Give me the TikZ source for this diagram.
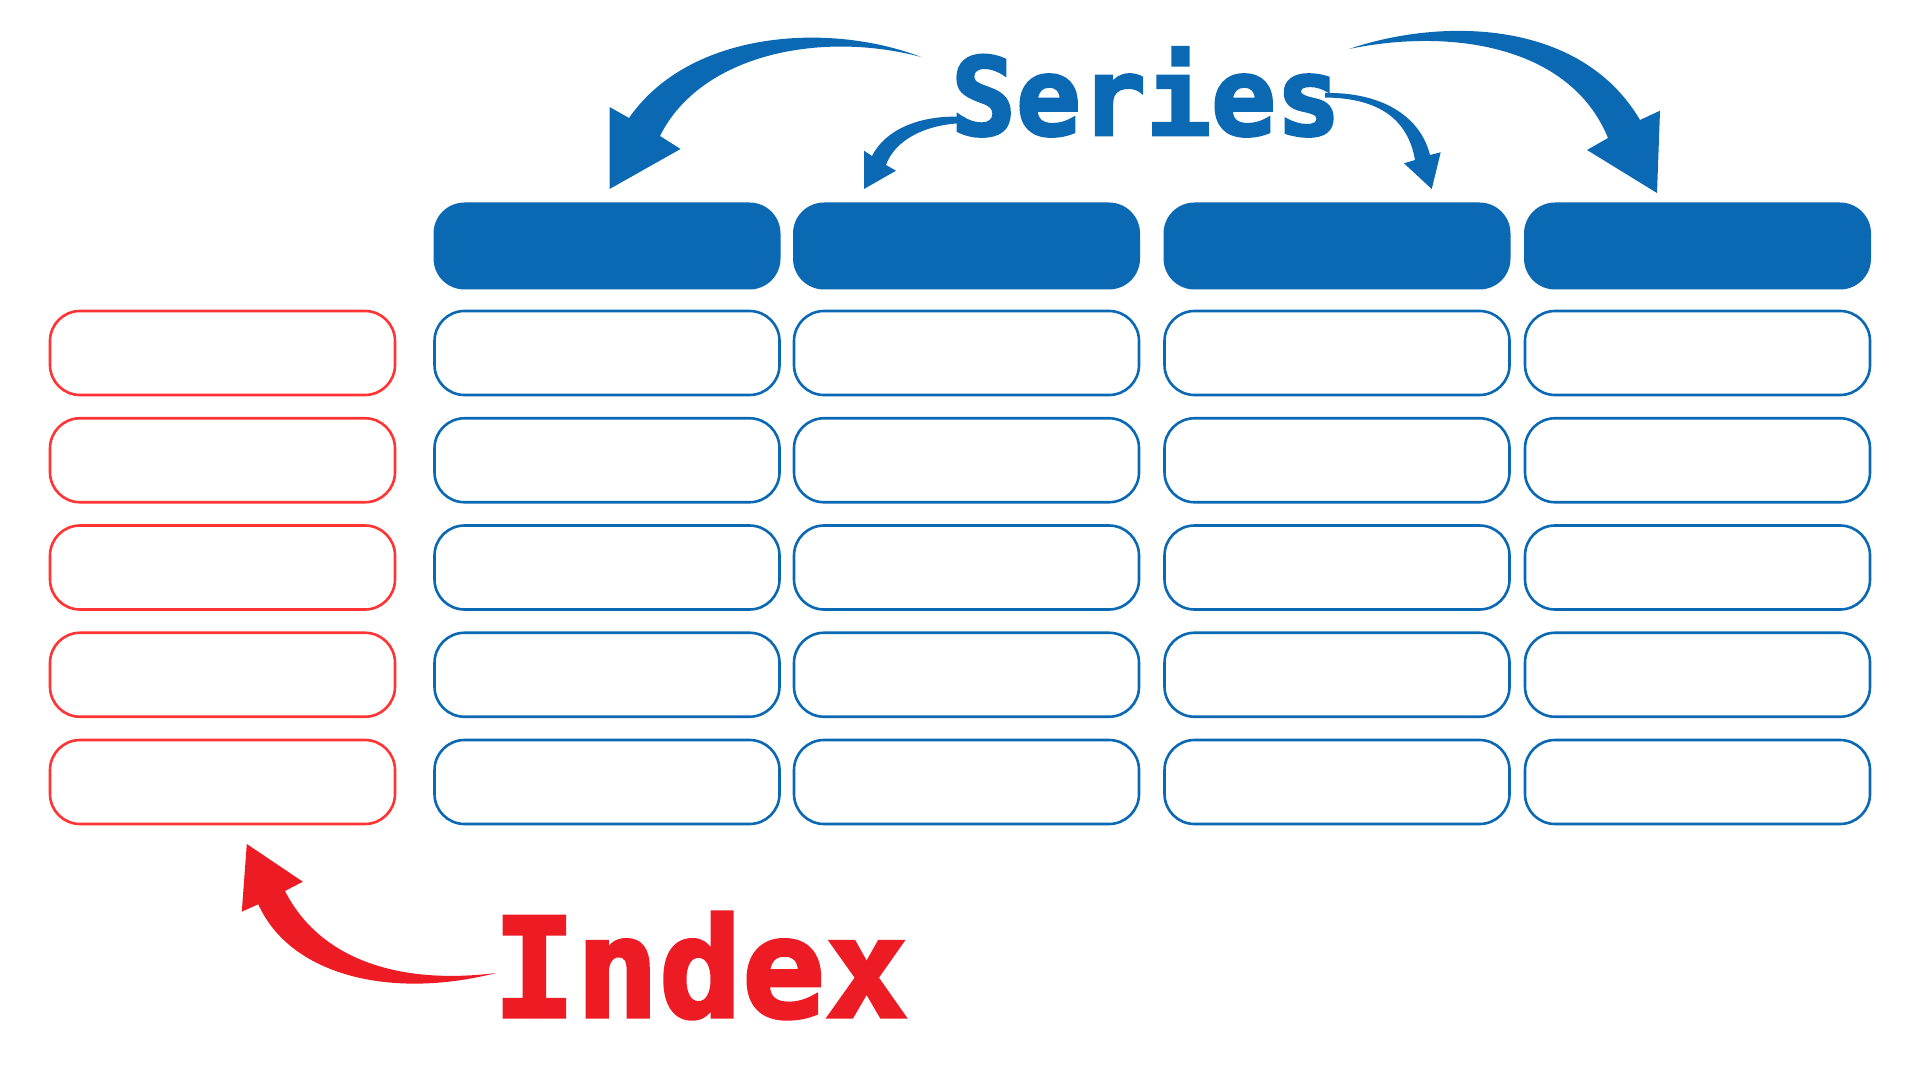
\documentclass[tikz,border=0pt]{standalone}
\usepackage{fontspec}
\newfontfamily\slabfont{DejaVu Sans Mono Bold}[RawFeature={embolden=2.5}]
\usetikzlibrary{calc}
\definecolor{seriesblue}{HTML}{0B69B4}
\definecolor{indexred}{HTML}{ED1C24}
\definecolor{cellred}{HTML}{FF3535}

\begin{document}
\begin{tikzpicture}[
    x=0.5pt, y=-0.5pt,
    head cell/.style={fill=seriesblue, rounded corners=15.5pt, inner sep=0pt,
        minimum width=173.5pt, minimum height=43.5pt},
    value cell/.style={draw=seriesblue, line width=1.3pt, rounded corners=15pt,
        inner sep=0pt, minimum width=172.5pt, minimum height=42pt},
    index cell/.style={value cell, draw=cellred},
    big title/.style={font={\slabfont\fontsize{#1}{#1}\selectfont},
        anchor=base, inner sep=0pt},
    sweep/.style={fill=seriesblue},
]

% ══════════════════════════════════════════════════════════════════════
%  DIMENSIONS — one index column, four series columns, five rows
% ══════════════════════════════════════════════════════════════════════
\def\colI{222.5} \def\colA{607} \def\colB{966.5} \def\colC{1337} \def\colD{1697.5}
\def\rowH{246}
\def\rowA{353} \def\rowB{460.25} \def\rowC{567.5} \def\rowD{674.75} \def\rowE{782}

\fill[white] (0,0) rectangle (1920,1080);
\useasboundingbox (0,0) rectangle (1920,1080);

% ── Series headers ────────────────────────────────────────────────────
\node[head cell] (hdA) at (\colA,\rowH) {};
\node[head cell] (hdB) at (\colB,\rowH) {};
\node[head cell] (hdC) at (\colC,\rowH) {};
\node[head cell] (hdD) at (\colD,\rowH) {};

% ── Index column ──────────────────────────────────────────────────────
\node[index cell] (ix1) at (\colI,\rowA) {};
\node[index cell] (ix2) at (\colI,\rowB) {};
\node[index cell] (ix3) at (\colI,\rowC) {};
\node[index cell] (ix4) at (\colI,\rowD) {};
\node[index cell] (ix5) at (\colI,\rowE) {};

% ── Value cells ───────────────────────────────────────────────────────
\node[value cell] (A1) at (\colA,\rowA) {};
\node[value cell] (A2) at (\colA,\rowB) {};
\node[value cell] (A3) at (\colA,\rowC) {};
\node[value cell] (A4) at (\colA,\rowD) {};
\node[value cell] (A5) at (\colA,\rowE) {};

\node[value cell] (B1) at (\colB,\rowA) {};
\node[value cell] (B2) at (\colB,\rowB) {};
\node[value cell] (B3) at (\colB,\rowC) {};
\node[value cell] (B4) at (\colB,\rowD) {};
\node[value cell] (B5) at (\colB,\rowE) {};

\node[value cell] (C1) at (\colC,\rowA) {};
\node[value cell] (C2) at (\colC,\rowB) {};
\node[value cell] (C3) at (\colC,\rowC) {};
\node[value cell] (C4) at (\colC,\rowD) {};
\node[value cell] (C5) at (\colC,\rowE) {};

\node[value cell] (D1) at (\colD,\rowA) {};
\node[value cell] (D2) at (\colD,\rowB) {};
\node[value cell] (D3) at (\colD,\rowC) {};
\node[value cell] (D4) at (\colD,\rowD) {};
\node[value cell] (D5) at (\colD,\rowE) {};

% ══════════════════════════════════════════════════════════════════════
%  SWEEPING ARROWS — tapered shafts, drawn before the titles
% ══════════════════════════════════════════════════════════════════════
\coordinate (bl tail) at (921,57);    \coordinate (bl tip) at (609.6,189);
\coordinate (sl tail) at (965,117);   \coordinate (sl tip) at (864,189);
\coordinate (sr tail) at (1325,93);   \coordinate (sr tip) at (1431.7,189);
\coordinate (br tail) at (1349,49);   \coordinate (br tip) at (1657,193);
\coordinate (ri tail) at (496,973);   \coordinate (ri tip) at (246.8,844);

% big arrow to the first header
\fill[sweep] (bl tail) .. controls (830,22) and (690,30) .. (629,118)
    -- (609.6,107) -- (bl tip) -- (680.5,149) -- (660,136)
    .. controls (700,55) and (820,30) .. (bl tail) -- cycle;
% small arrow to the second header
\fill[sweep] (sl tail) .. controls (920,114) and (885,130) .. (872,156)
    -- (864,150.7) -- (sl tip) -- (896,170.7) -- (886,165)
    .. controls (895,140) and (925,124) .. (965,123) -- cycle;
% small arrow to the third header
\fill[sweep] (sr tail) .. controls (1380,92) and (1420,115) .. (1430,155)
    -- (1440.7,152.3) -- (sr tip) -- (1404,163.3) -- (1415,160)
    .. controls (1408,120) and (1380,98) .. (1325,97.5) -- cycle;
% big arrow to the fourth header
\fill[sweep] (br tail) .. controls (1440,18) and (1580,18) .. (1640,120)
    -- (1660,110.7) -- (br tip) -- (1587,150) -- (1608,138)
    .. controls (1570,45) and (1450,28) .. (br tail) -- cycle;
% red arrow up to the index column
\fill[indexred] (ri tail) .. controls (400,985) and (320,960) .. (285,891)
    -- (302.8,881.7) -- (ri tip) -- (241.8,911.7) -- (258.3,904.3)
    .. controls (290,975) and (390,1000) .. (ri tail) -- cycle;

% ── Titles ────────────────────────────────────────────────────────────
\node[big title=54, text=seriesblue] (series) at (1146,135) {Series};
\node[big title=69, text=indexred] (index) at (700.5,1017) {Index};

\end{tikzpicture}
\end{document}
